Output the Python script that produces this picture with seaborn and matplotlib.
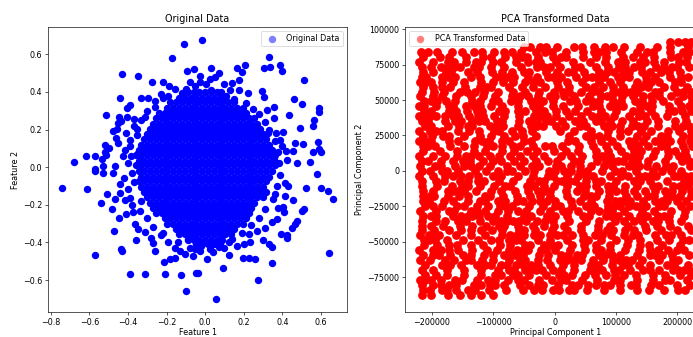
import matplotlib
matplotlib.use("Agg")
import matplotlib.pyplot as plt
import pandas as pd
import seaborn as sns


# ---------------------------
# Original data
# ---------------------------

# scattered points outside the dense centre
feature1_outer = [
    -0.110, -0.173, -0.429, -0.348, -0.277, -0.218, -0.093, -0.058, -0.187, -0.158,
    -0.118, -0.099, -0.080, -0.441, -0.389, -0.405, -0.331, -0.296, -0.258, -0.217,
    -0.512, -0.445, -0.405, -0.369, -0.313, -0.451, -0.434, -0.476, -0.458, -0.352,
    -0.352, -0.463, -0.451, -0.517, -0.498, -0.389, -0.520, -0.417, -0.616, -0.572,
    -0.533, -0.512, -0.679, -0.425, -0.382, -0.348, -0.469, -0.529, -0.572,
    -0.016, 0.332, 0.305, 0.336, 0.386, 0.396, 0.513, 0.205, 0.165, 0.191,
    0.032, 0.070, 0.053, 0.024, 0.006, -0.028, -0.028, 0.096, 0.139, 0.174,
    0.130, 0.174, 0.222, 0.294, 0.306, 0.461, 0.503, 0.589, 0.589, 0.434,
    0.564, 0.560, 0.355, 0.358, 0.320, 0.493, 0.403, 0.367, 0.324, 0.467,
    0.507, 0.583, 0.589, 0.600, 0.557, 0.389, 0.398, 0.417, 0.455, 0.424,
    0.476, 0.545, 0.355, 0.381,
    -0.741, -0.610, -0.541, -0.507, -0.482, -0.469, -0.446, -0.472, -0.357, -0.437,
    -0.430, -0.572, -0.391, -0.310, -0.210, -0.124, -0.046, -0.097, -0.213, -0.184,
    -0.158, -0.270, -0.262, -0.279, -0.227, -0.158, -0.132, -0.106, -0.063, -0.054,
    -0.089, -0.408, -0.374, -0.339, -0.348, -0.313, -0.365, -0.417, -0.391, -0.572,
    -0.529, -0.477, -0.443, -0.400, -0.443,
    0.058, 0.274, 0.643, 0.346, 0.260, 0.225, 0.196, 0.125, 0.092, -0.039,
    0.660, 0.634, 0.600, 0.522, 0.579, 0.510, 0.501, 0.476, 0.467, 0.450,
    0.424, 0.424, 0.394, 0.346, 0.329, 0.298, 0.453, 0.415, 0.363, 0.415,
    0.427, 0.380, 0.403, 0.410, 0.372, 0.346, 0.312, 0.269, 0.225, 0.234,
    0.199, 0.165, 0.122, 0.027, 0.070, -0.025, 0.010,
    -0.40, -0.38, -0.42, -0.39, -0.41, -0.37, -0.33, -0.30, -0.26, -0.23,
    -0.19, -0.37, -0.38, -0.33, -0.30, -0.27, -0.22, -0.19, -0.14,
    -0.05, 0.03, 0.08, 0.11, 0.15, 0.21, 0.25, 0.28, 0.31, 0.33,
    0.36, 0.38, 0.37, 0.39, 0.37, 0.35, 0.31, 0.28, 0.24, 0.19,
    0.14, 0.10, 0.04, -0.02, -0.08,
]
feature2_outer = [
    0.653, 0.579, 0.496, 0.484, 0.455, 0.453, 0.512, 0.522, 0.431, 0.413,
    0.395, 0.418, 0.453, 0.365, 0.330, 0.314, 0.365, 0.369, 0.353, 0.370,
    0.279, 0.265, 0.268, 0.254, 0.268, 0.233, 0.245, 0.193, 0.201, 0.203,
    0.171, 0.156, 0.127, 0.119, 0.101, 0.145, 0.083, 0.092, 0.057, 0.057,
    0.041, 0.066, 0.029, 0.057, 0.057, 0.074, 0.004, 0.004, -0.011,
    0.674, 0.584, 0.526, 0.534, 0.545, 0.512, 0.462, 0.542, 0.527, 0.506,
    0.527, 0.503, 0.480, 0.466, 0.441, 0.484, 0.453, 0.441, 0.448, 0.462,
    0.410, 0.410, 0.395, 0.404, 0.374, 0.360, 0.335, 0.312, 0.293, 0.275,
    0.249, 0.221, 0.321, 0.259, 0.304, 0.206, 0.189, 0.180, 0.180, 0.131,
    0.124, 0.132, 0.095, 0.078, 0.078, 0.145, 0.113, 0.088, 0.088, 0.039,
    0.021, 0.030, 0.048, 0.021,
    -0.109, -0.118, -0.188, -0.144, -0.224, -0.171, -0.268, -0.339, -0.388, -0.435,
    -0.446, -0.467, -0.569, -0.566, -0.566, -0.573, -0.564, -0.659, -0.503, -0.488,
    -0.485, -0.404, -0.444, -0.374, -0.361, -0.430, -0.444, -0.462, -0.474, -0.435,
    -0.383, -0.250, -0.241, -0.233, -0.330, -0.347, -0.303, -0.174, -0.162, -0.021,
    -0.030, -0.030, -0.092, -0.118, -0.136,
    -0.700, -0.600, -0.457, -0.511, -0.488, -0.481, -0.481, -0.467, -0.536, -0.562,
    -0.167, -0.127, -0.109, -0.109, -0.039, -0.224, -0.233, -0.286, -0.303, -0.321,
    -0.361, -0.374, -0.356, -0.426, -0.409, -0.386, -0.175, -0.153, -0.144, -0.083,
    -0.101, -0.215, -0.210, -0.238, -0.277, -0.294, -0.321, -0.339, -0.356, -0.400,
    -0.409, -0.421, -0.400, -0.435, -0.426, -0.444, -0.488,
    0.02, -0.03, -0.06, 0.11, 0.18, 0.22, 0.25, 0.30, 0.32, 0.39,
    0.38, -0.08, -0.20, -0.18, -0.27, -0.32, -0.35, -0.40, -0.40,
    0.43, 0.41, 0.40, 0.38, 0.36, 0.34, 0.31, 0.28, 0.24, 0.20,
    0.14, 0.08, 0.02, -0.04, -0.10, -0.17, -0.22, -0.27, -0.31, -0.35,
    -0.38, -0.43, -0.45, -0.42, -0.43,
]

# dense centre, estimated row by row (Feature 2 level -> Feature 1 values)
core_feature2 = [
    0.40, 0.37, 0.345, 0.315, 0.29, 0.26, 0.23, 0.205, 0.175, 0.15,
    0.12, 0.09, 0.065, 0.035, 0.01, -0.02, -0.05, -0.075, -0.105, -0.13,
    -0.16, -0.19, -0.215, -0.245, -0.27, -0.30, -0.33, -0.355, -0.385, -0.41,
]
core_feature1 = [
    [-0.09, -0.06, -0.03, 0.0, 0.03, 0.06],
    [-0.135, -0.105, -0.075, -0.045, -0.015, 0.015, 0.045, 0.075, 0.105],
    [-0.18, -0.15, -0.12, -0.09, -0.06, -0.03, 0.0, 0.03, 0.06, 0.09, 0.12, 0.15],
    [-0.195, -0.165, -0.135, -0.105, -0.075, -0.045, -0.015, 0.015, 0.045, 0.075, 0.105,
     0.135, 0.165, 0.195],
    [-0.24, -0.21, -0.18, -0.15, -0.12, -0.09, -0.06, -0.03, 0.0, 0.03, 0.06, 0.09, 0.12,
     0.15, 0.18, 0.21],
    [-0.255, -0.225, -0.195, -0.165, -0.135, -0.105, -0.075, -0.045, -0.015, 0.015, 0.045,
     0.075, 0.105, 0.135, 0.165, 0.195, 0.225, 0.255],
    [-0.27, -0.24, -0.21, -0.18, -0.15, -0.12, -0.09, -0.06, -0.03, 0.0, 0.03, 0.06, 0.09,
     0.12, 0.15, 0.18, 0.21, 0.24, 0.27],
    [-0.285, -0.255, -0.225, -0.195, -0.165, -0.135, -0.105, -0.075, -0.045, -0.015, 0.015,
     0.045, 0.075, 0.105, 0.135, 0.165, 0.195, 0.225, 0.255, 0.285],
    [-0.30, -0.27, -0.24, -0.21, -0.18, -0.15, -0.12, -0.09, -0.06, -0.03, 0.0, 0.03, 0.06,
     0.09, 0.12, 0.15, 0.18, 0.21, 0.24, 0.27, 0.30],
    [-0.315, -0.285, -0.255, -0.225, -0.195, -0.165, -0.135, -0.105, -0.075, -0.045, -0.015,
     0.015, 0.045, 0.075, 0.105, 0.135, 0.165, 0.195, 0.225, 0.255, 0.285, 0.315],
    [-0.33, -0.30, -0.27, -0.24, -0.21, -0.18, -0.15, -0.12, -0.09, -0.06, -0.03, 0.0, 0.03,
     0.06, 0.09, 0.12, 0.15, 0.18, 0.21, 0.24, 0.27, 0.30, 0.33],
    [-0.345, -0.315, -0.285, -0.255, -0.225, -0.195, -0.165, -0.135, -0.105, -0.075, -0.045,
     -0.015, 0.015, 0.045, 0.075, 0.105, 0.135, 0.165, 0.195, 0.225, 0.255, 0.285, 0.315,
     0.345],
    [-0.36, -0.33, -0.30, -0.27, -0.24, -0.21, -0.18, -0.15, -0.12, -0.09, -0.06, -0.03, 0.0,
     0.03, 0.06, 0.09, 0.12, 0.15, 0.18, 0.21, 0.24, 0.27, 0.30, 0.33, 0.36],
    [-0.345, -0.315, -0.285, -0.255, -0.225, -0.195, -0.165, -0.135, -0.105, -0.075, -0.045,
     -0.015, 0.015, 0.045, 0.075, 0.105, 0.135, 0.165, 0.195, 0.225, 0.255, 0.285, 0.315,
     0.345],
    [-0.36, -0.33, -0.30, -0.27, -0.24, -0.21, -0.18, -0.15, -0.12, -0.09, -0.06, -0.03, 0.0,
     0.03, 0.06, 0.09, 0.12, 0.15, 0.18, 0.21, 0.24, 0.27, 0.30, 0.33, 0.36],
    [-0.345, -0.315, -0.285, -0.255, -0.225, -0.195, -0.165, -0.135, -0.105, -0.075, -0.045,
     -0.015, 0.015, 0.045, 0.075, 0.105, 0.135, 0.165, 0.195, 0.225, 0.255, 0.285, 0.315,
     0.345],
    [-0.33, -0.30, -0.27, -0.24, -0.21, -0.18, -0.15, -0.12, -0.09, -0.06, -0.03, 0.0, 0.03,
     0.06, 0.09, 0.12, 0.15, 0.18, 0.21, 0.24, 0.27, 0.30, 0.33],
    [-0.345, -0.315, -0.285, -0.255, -0.225, -0.195, -0.165, -0.135, -0.105, -0.075, -0.045,
     -0.015, 0.015, 0.045, 0.075, 0.105, 0.135, 0.165, 0.195, 0.225, 0.255, 0.285, 0.315],
    [-0.33, -0.30, -0.27, -0.24, -0.21, -0.18, -0.15, -0.12, -0.09, -0.06, -0.03, 0.0, 0.03,
     0.06, 0.09, 0.12, 0.15, 0.18, 0.21, 0.24, 0.27, 0.30],
    [-0.315, -0.285, -0.255, -0.225, -0.195, -0.165, -0.135, -0.105, -0.075, -0.045, -0.015,
     0.015, 0.045, 0.075, 0.105, 0.135, 0.165, 0.195, 0.225, 0.255, 0.285, 0.315],
    [-0.30, -0.27, -0.24, -0.21, -0.18, -0.15, -0.12, -0.09, -0.06, -0.03, 0.0, 0.03, 0.06,
     0.09, 0.12, 0.15, 0.18, 0.21, 0.24, 0.27, 0.30],
    [-0.285, -0.255, -0.225, -0.195, -0.165, -0.135, -0.105, -0.075, -0.045, -0.015, 0.015,
     0.045, 0.075, 0.105, 0.135, 0.165, 0.195, 0.225, 0.255],
    [-0.27, -0.24, -0.21, -0.18, -0.15, -0.12, -0.09, -0.06, -0.03, 0.0, 0.03, 0.06, 0.09,
     0.12, 0.15, 0.18, 0.21, 0.24],
    [-0.255, -0.225, -0.195, -0.165, -0.135, -0.105, -0.075, -0.045, -0.015, 0.015, 0.045,
     0.075, 0.105, 0.135, 0.165, 0.195, 0.225],
    [-0.21, -0.18, -0.15, -0.12, -0.09, -0.06, -0.03, 0.0, 0.03, 0.06, 0.09, 0.12, 0.15,
     0.18, 0.21],
    [-0.195, -0.165, -0.135, -0.105, -0.075, -0.045, -0.015, 0.015, 0.045, 0.075, 0.105,
     0.135, 0.165, 0.195],
    [-0.15, -0.12, -0.09, -0.06, -0.03, 0.0, 0.03, 0.06, 0.09, 0.12, 0.15],
    [-0.135, -0.105, -0.075, -0.045, -0.015, 0.015, 0.045, 0.075, 0.105, 0.135],
    [-0.09, -0.06, -0.03, 0.0, 0.03, 0.06, 0.09],
    [-0.045, -0.015, 0.015, 0.045, 0.075],
]


# ---------------------------
# PCA transformed data (thousands), estimated row by row
# ---------------------------

pc2_levels = [
    91, 87.5, 84, 80.5, 77, 73.5, 70, 66.5, 63, 59.5, 56, 52.5, 49, 45.5, 42, 38.5,
    35, 31.5, 28, 24.5, 21, 17.5, 14, 10.5, 7, 3.5, 0, -3.5, -7, -10.5, -14, -17.5,
    -21, -24.5, -28, -31.5, -35, -38.5, -42, -45.5, -49, -52.5, -56, -59.5, -63,
    -66.5, -70, -73.5, -77, -80.5, -84, -87.5,
]
pc1_rows = [
    [188, 201, 213, 222],
    [-50, -40, -24, -14, 4, 32, 44, 64, 82, 96, 114, 139, 167, 189, 217],
    [-218, -206, -192, -167, -151, -131, -119, -99, -83, -69, -55, -30, -16, -4, 18, 46,
     64, 72, 84, 109, 134, 150, 160, 188, 210, 220],
    [-215, -187, -173, -145, -117, -103, -81, -63, -53, -45, -27, -2, 10, 18, 46, 68, 84,
     112, 128, 144, 162, 190, 202, 216],
    [-221, -199, -174, -164, -144, -128, -120, -100, -88, -63, -43, -31, -23, 2, 30, 58, 83,
     103, 115, 140, 148, 162, 178, 203, 215],
    [-216, -202, -186, -174, -164, -154, -132, -124, -104, -82, -54, -29, -17, -7, 9, 34, 42,
     67, 87, 105, 115, 129, 141, 166, 178, 192, 200, 220],
    [-215, -199, -177, -169, -141, -127, -102, -86, -70, -50, -42, -14, 4, 22, 30, 48, 73,
     85, 97, 111, 121, 143, 155, 173, 187, 205],
    [-217, -209, -184, -174, -162, -137, -121, -96, -86, -76, -66, -44, -28, -10, -2, 10, 35,
     51, 61, 69, 81, 103, 111, 121, 149, 163, 188, 206, 218],
    [-220, -210, -202, -184, -166, -148, -120, -100, -84, -68, -48, -36, -24, 4, 20, 45, 73,
     91, 107, 135, 149, 157, 171, 196, 206],
    [-215, -199, -183, -171, -146, -121, -111, -103, -75, -53, -35, -15, 5, 23, 51, 65, 79,
     95, 111, 131, 141, 153, 178, 194, 216],
    [-216, -196, -180, -155, -143, -129, -115, -93, -68, -48, -26, -1, 13, 23, 43, 61, 73,
     95, 105, 117, 125, 135, 163, 171, 199, 209, 223],
    [-219, -199, -183, -160, -137, -117, -97, -69, -57, -43, -27, -7, 1, 15, 31, 56, 76, 86,
     94, 110, 128, 144, 158, 170, 190, 210, 223],
    [-213, -201, -191, -177, -163, -135, -121, -101, -93, -71, -59, -39, -31, -19, -3, 25,
     35, 51, 61, 73, 95, 109, 131, 143, 159, 177, 202, 224],
    [-221, -213, -193, -173, -165, -145, -131, -121, -103, -85, -60, -35, -25, -3, 13, 38,
     63, 73, 91, 103, 111, 139, 151, 159, 187, 207, 219],
    [-213, -201, -173, -161, -143, -127, -119, -91, -81, -59, -49, -31, -17, 3, 19, 33, 53,
     75, 100, 128, 140, 158, 186, 194, 208, 222],
    [-221, -213, -203, -193, -179, -165, -157, -139, -125, -117, -99, -83, -58, -33, -21,
     -13, 3, 23, 43, 61, 73, 83, 97, 122, 138, 148, 164, 184, 212],
    [-216, -206, -178, -162, -152, -134, -124, -114, -94, -86, -58, -42, -28, -14, -6, 12,
     34, 46, 68, 76, 90, 110, 128, 150, 168, 196, 214],
    [-212, -202, -174, -156, -142, -134, -106, -94, -84, -59, -39, -29, -19, 3, 17, 42, 52,
     80, 94, 106, 126, 136, 146, 168, 196, 210, 220],
    [-221, -203, -193, -183, -158, -140, -124, -99, -91, -69, -53, -37, 9, 31, 59, 87, 107,
     119, 141, 157, 185, 203, 223],
    [-214, -200, -182, -172, -147, -122, -104, -82, -64, -52, -30, 23, 51, 61, 73, 85, 107,
     135, 149, 174, 184, 209, 223],
    [-221, -211, -201, -173, -157, -129, -119, -107, -85, -75, -50, -38, 22, 34, 59, 75, 93,
     121, 129, 145, 163, 175, 189, 207, 221],
    [-215, -207, -195, -170, -148, -132, -110, -100, -86, -68, -56, -36, -16, -4, 12, 40, 62,
     84, 102, 124, 136, 152, 174, 182, 210, 224],
    [-215, -187, -159, -131, -113, -85, -67, -45, -29, -1, 19, 39, 67, 87, 109, 129, 141,
     163, 185, 197, 213],
    [-221, -199, -179, -159, -145, -137, -123, -105, -91, -73, -57, -35, -17, 11, 27, 45, 67,
     77, 91, 116, 128, 138, 160, 185, 203, 215],
    [-216, -206, -186, -166, -150, -138, -116, -100, -88, -66, -50, -30, -10, 4, 32, 42, 70,
     84, 96, 104, 112, 126, 134, 152, 180, 208, 220],
    [-220, -195, -185, -163, -147, -137, -123, -105, -77, -57, -37, -25, 3, 11, 27, 41, 59,
     81, 93, 121, 129, 137, 151, 165, 181, 193, 221],
    [-216, -204, -184, -176, -158, -130, -112, -92, -78, -70, -48, -34, -9, 1, 15, 27, 41,
     53, 78, 98, 110, 132, 160, 176, 190, 206],
    [-221, -199, -179, -165, -153, -139, -125, -100, -88, -60, -35, -10, -2, 20, 38, 52, 62,
     90, 108, 120, 138, 148, 156, 166, 194, 202, 212, 222],
    [-216, -194, -180, -155, -141, -125, -115, -90, -68, -40, -26, -18, 4, 12, 24, 34, 52,
     68, 76, 101, 129, 139, 155, 183, 211, 223],
    [-217, -192, -167, -151, -141, -121, -99, -81, -73, -45, -33, -17, -1, 21, 41, 51, 67,
     87, 95, 115, 135, 160, 168, 193, 205, 217],
    [-215, -199, -174, -166, -158, -148, -128, -103, -87, -65, -43, -27, -17, -7, 18, 36, 50,
     72, 88, 100, 114, 130, 148, 164, 180, 192, 208, 222],
    [-214, -204, -196, -174, -156, -142, -114, -106, -84, -62, -40, -24, -8, 20, 48, 60, 68,
     88, 116, 134, 152, 162, 184, 192, 204, 223],
    [-215, -205, -180, -166, -141, -121, -113, -93, -81, -61, -51, -37, -23, -13, 1, 26, 42,
     60, 85, 99, 107, 115, 123, 145, 163, 175, 183, 199, 215],
    [-212, -198, -184, -159, -147, -127, -109, -89, -81, -69, -41, -19, 1, 9, 29, 51, 65, 87,
     97, 107, 121, 133, 141, 149, 171, 179, 207, 221],
    [-219, -194, -172, -164, -136, -126, -114, -92, -76, -60, -46, -24, -8, 14, 22, 38, 60,
     72, 86, 94, 114, 142, 162, 190, 212],
    [-214, -202, -194, -166, -152, -142, -134, -124, -108, -98, -78, -50, -38, -13, 1, 21,
     46, 56, 84, 92, 104, 122, 140, 150, 168, 178, 186, 211],
    [-216, -194, -178, -158, -144, -122, -100, -88, -78, -68, -58, -46, -28, -16, -2, 23, 51,
     73, 98, 114, 130, 142, 160, 168, 186, 206],
    [-216, -202, -182, -154, -134, -112, -90, -82, -60, -35, -17, -1, 15, 43, 71, 91, 119,
     147, 167, 189, 217],
    [-217, -197, -172, -152, -136, -120, -102, -86, -58, -50, -32, -4, 21, 43, 71, 85, 95,
     115, 129, 149, 174, 199, 222],
    [-219, -205, -197, -189, -161, -136, -114, -86, -72, -62, -50, -34, -24, -8, 4, 14, 28,
     46, 66, 78, 92, 114, 128, 136, 164, 182, 190, 206],
    [-213, -205, -195, -175, -150, -125, -103, -91, -75, -63, -55, -27, -7, 21, 46, 54, 76,
     101, 119, 139, 167, 187, 209, 219],
    [-213, -191, -173, -159, -137, -117, -89, -73, -48, -40, -18, -4, 6, 28, 48, 68, 90, 118,
     140, 154, 176, 204],
    [-221, -199, -185, -173, -157, -135, -110, -94, -74, -62, -52, -44, -22, -14, 0, 25, 50,
     68, 76, 90, 115, 137, 155, 169, 185, 199, 211],
    [-215, -199, -189, -171, -149, -137, -115, -101, -83, -75, -65, -51, -26, -10, 10, 22,
     36, 44, 72, 82, 94, 106, 134, 156, 164, 176, 192, 220],
    [-219, -203, -178, -164, -144, -136, -118, -100, -75, -57, -49, -27, -13, 9, 21, 31, 43,
     63, 79, 95, 105, 117, 127, 143, 171, 193, 201],
    [-212, -184, -170, -152, -127, -113, -103, -87, -77, -63, -51, -39, -27, -7, 13, 31, 59,
     71, 93, 111, 119, 137, 155, 183, 195, 217],
    [-216, -198, -176, -148, -120, -92, -74, -66, -48, -40, -30, -20, -2, 10, 32, 57, 69, 77,
     97, 105, 123, 145, 155, 171, 193, 201, 211, 219],
    [-212, -194, -176, -148, -120, -98, -88, -68, -60, -42, -14, 8, 16, 28, 50, 66, 84, 98,
     114, 132, 160, 180, 205, 222],
    [-219, -211, -201, -185, -163, -151, -126, -108, -98, -76, -60, -50, -25, -5, 11, 19, 44,
     69, 97, 107, 135, 160, 180, 188, 216],
    [-216, -198, -186, -172, -160, -132, -120, -106, -98, -82, -57, -41, -27, -19, 6, 28, 38,
     54, 68, 80, 90, 106, 124, 132, 157, 171, 199, 221],
    [-215, -203, -183, -175, -161, -141, -129, -107, -79, -51, -33, -21, -3, 7, 23, 31, 53,
     81, 106, 134, 154, 179, 201, 213],
    [-216, -202, -174, -154, -136, -120, -100],
]


# ---------------------------
# Tables for seaborn
# ---------------------------

f1 = list(feature1_outer)
f2 = list(feature2_outer)
for level, row in zip(core_feature2, core_feature1):
    f1 += row
    f2 += [level] * len(row)
original = pd.DataFrame({"Feature 1": f1, "Feature 2": f2})

p1, p2 = [], []
for level, row in zip(pc2_levels, pc1_rows):
    p1 += [v * 1000 for v in row]
    p2 += [level * 1000] * len(row)
transformed = pd.DataFrame({"PC1": p1, "PC2": p2})


# ---------------------------
# Plot
# ---------------------------

DPI = 57.75
fig = plt.figure(figsize=(693 / DPI, 337 / DPI), dpi=DPI)
ax1 = fig.add_axes([48 / 693, 25 / 337, 299 / 693, 285 / 337])
ax2 = fig.add_axes([405 / 693, 25 / 337, 301 / 693, 285 / 337])

sns.scatterplot(data=original, x="Feature 1", y="Feature 2", color="blue",
                s=85, linewidth=0, label="Original Data", ax=ax1)
ax1.set_xlim(-0.814, 0.735)
ax1.set_ylim(-0.77, 0.745)
ax1.set_title("Original Data")
ax1.set_xlabel("Feature 1", labelpad=2)
ax1.set_ylabel("Feature 2")
leg1 = ax1.legend(loc="upper right")
for h in leg1.legend_handles:
    h.set_alpha(0.5)

# fewer points than the source here, so the dots are drawn a little larger
sns.scatterplot(data=transformed, x="PC1", y="PC2", color="red",
                s=120, linewidth=0, label="PCA Transformed Data", ax=ax2)
ax2.set_xlim(-244000, 247000)
ax2.set_ylim(-99500, 101500)
ax2.set_title("PCA Transformed Data")
ax2.set_xlabel("Principal Component 1", labelpad=2)
ax2.set_ylabel("Principal Component 2")
leg2 = ax2.legend(loc="upper left", markerscale=0.85)
for h in leg2.legend_handles:
    h.set_alpha(0.5)

fig.savefig("out.png", dpi=DPI)
